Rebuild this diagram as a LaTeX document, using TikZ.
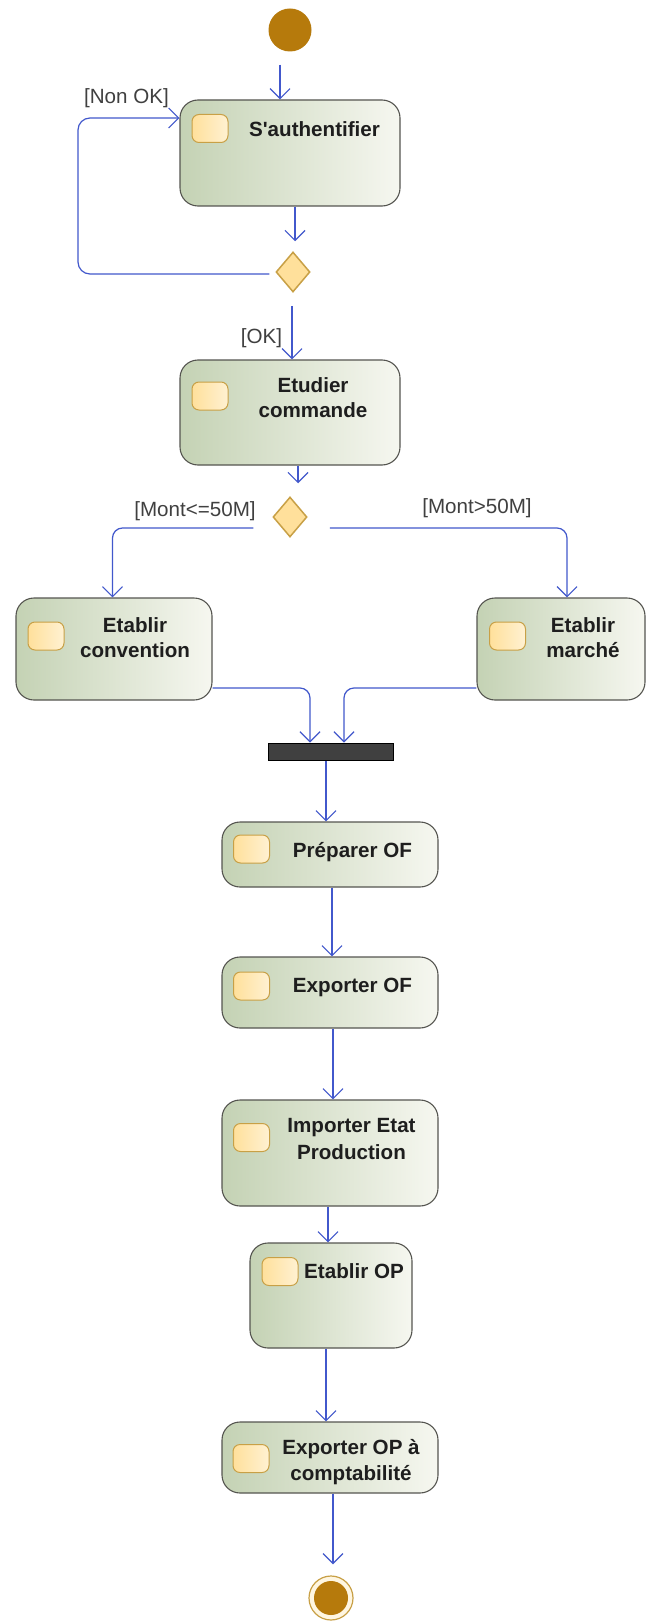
\documentclass[tikz,border=0pt]{standalone}
\usepackage{fontspec}
\setmainfont{Liberation Sans}
\usetikzlibrary{arrows.meta,shapes.geometric,calc}

\definecolor{flowblue}{RGB}{66,88,204}
\definecolor{boxleft}{RGB}{196,210,180}
\definecolor{boxright}{RGB}{246,247,240}
\definecolor{boxline}{RGB}{85,85,80}
\definecolor{pinfill}{RGB}{255,224,155}
\definecolor{pinline}{RGB}{200,160,70}
\definecolor{nodegold}{RGB}{182,122,12}
\definecolor{textdark}{RGB}{30,30,30}
\definecolor{bargray}{RGB}{64,64,64}

\begin{document}
\begin{tikzpicture}[x=1pt,y=-1pt,
  action/.style={draw=boxline, line width=1.1pt, rounded corners=18pt,
    left color=boxleft, right color=boxright, inner sep=0pt},
  pin/.style={draw=pinline, line width=1pt, rounded corners=7pt,
    left color=pinfill, right color=pinfill!45!white,
    minimum width=36pt, minimum height=28pt, inner sep=0pt},
  actext/.style={font=\fontsize{20.6}{25}\selectfont\bfseries, text=textdark,
    anchor=base, inner sep=0pt},
  guard/.style={font=\fontsize{20.6}{25}\selectfont, text=textdark!85,
    inner sep=0pt},
  flow/.style={draw=flowblue, line width=1.2pt,
    -{Straight Barb[length=10pt,width=20pt,line width=1.2pt]}},
  decision/.style={diamond, draw=pinline, line width=1.5pt, fill=pinfill,
    minimum width=34pt, minimum height=40pt, inner sep=0pt},
  initial/.style={circle, fill=nodegold, minimum size=43pt, inner sep=0pt},
  final/.style={circle, draw=pinline, line width=1.2pt, fill=pinfill!30!white,
    minimum size=44pt, inner sep=0pt},
  finaldot/.style={circle, fill=nodegold, minimum size=34pt, inner sep=0pt},
  forkbar/.style={draw=black, line width=1pt, fill=bargray,
    minimum width=125pt, minimum height=17pt, inner sep=0pt}
]
\fill[white] (0,0) rectangle (653,1621);
\useasboundingbox (0,0) rectangle (653,1621);

% start and end
\node[initial] (start) at (290,30) {};
\node[final] (end) at (331,1598) {};
\node[finaldot] (enddot) at (331,1598) {};

% actions
\node[action, minimum width=220pt, minimum height=106pt] (auth) at (290,153) {};
\node[action, minimum width=220pt, minimum height=105pt] (etud) at (290,412.5) {};
\node[action, minimum width=196pt, minimum height=102pt] (conv) at (114,649) {};
\node[action, minimum width=168pt, minimum height=102pt] (march) at (561,649) {};
\node[action, minimum width=216pt, minimum height=65pt] (prep) at (330,854.5) {};
\node[action, minimum width=216pt, minimum height=71pt] (expof) at (330,992.5) {};
\node[action, minimum width=216pt, minimum height=106pt] (imp) at (330,1153) {};
\node[action, minimum width=162pt, minimum height=105pt] (etop) at (331,1295.5) {};
\node[action, minimum width=216pt, minimum height=71pt] (expop) at (330,1457.5) {};

% action pins
\node[pin] (auth-pin) at (210,128.5) {};
\node[pin] (etud-pin) at (210,396) {};
\node[pin] (conv-pin) at (46,636) {};
\node[pin] (march-pin) at (507.5,636) {};
\node[pin] (prep-pin) at (251.5,849) {};
\node[pin] (expof-pin) at (251.5,986) {};
\node[pin] (imp-pin) at (251.5,1137.5) {};
\node[pin] (etop-pin) at (280,1271.5) {};
\node[pin] (expop-pin) at (251,1458.5) {};

% action names
\node[actext] (auth-t) at (314.5,137) {S\textquotesingle authentifier};
\node[actext] (etud-t1) at (313,392) {Etudier};
\node[actext] (etud-t2) at (313,417) {commande};
\node[actext] (conv-t1) at (135,632) {Etablir};
\node[actext] (conv-t2) at (135,657) {convention};
\node[actext] (march-t1) at (583,632) {Etablir};
\node[actext] (march-t2) at (583,657) {marché};
\node[actext] (prep-t) at (352.5,857) {Préparer OF};
\node[actext] (expof-t) at (352.5,992) {Exporter OF};
\node[actext] (imp-t1) at (351.5,1132) {Importer Etat};
\node[actext] (imp-t2) at (351.5,1159) {Production};
\node[actext] (etop-t) at (354,1278) {Etablir OP};
\node[actext] (expop-t1) at (351,1454) {Exporter OP à};
\node[actext] (expop-t2) at (351,1480) {comptabilité};

% decisions and fork
\node[decision] (d1) at (293,272) {};
\node[decision] (d2) at (290,517) {};
\node[forkbar] (bar) at (330.5,751.5) {};

% guards
\node[guard] (nonok) at (126.5,98) {[Non OK]};
\node[guard] (ok) at (261.5,338) {[OK]};
\node[guard] (le50) at (195,511) {[Mont<=50M]};
\node[guard] (gt50) at (477,508) {[Mont>50M]};

% flows
\coordinate (loopc) at (78,118);
\draw[flow] ($(start.south)+(-10,13)$) -- ($(auth.north)+(-10,0)$);
\draw[flow] ($(auth.south)+(5,0)$) -- ($(d1.north)+(2,-10)$);
\draw[flow, rounded corners=12pt] ($(d1.west)+(-6,2)$) -| (loopc) -- (loopc -| auth.west);
\draw[flow] ($(d1.south)+(-1,13)$) -- ($(etud.north)+(2,0)$);
\draw[flow] ($(etud.south)+(8,0)$) -- ($(d2.north)+(8,-13)$);
\draw[flow, rounded corners=10pt] ($(d2.west)+(-19,11)$) -| ($(conv.north)+(-1.5,0)$);
\draw[flow, rounded corners=10pt] ($(d2.east)+(22,11)$) -| ($(march.north)+(6,0)$);
\draw[flow, rounded corners=10pt] ($(conv.east)+(0,39)$) -| ($(bar.north)+(-20.5,0)$);
\draw[flow, rounded corners=10pt] ($(march.west)+(0,39)$) -| ($(bar.north)+(13.5,0)$);
\draw[flow] ($(bar.south)+(-4.5,0)$) -- ($(prep.north)+(-4,0)$);
\draw[flow] ($(prep.south)+(2,0)$) -- ($(expof.north)+(2,0)$);
\draw[flow] ($(expof.south)+(3,0)$) -- ($(imp.north)+(3,0)$);
\draw[flow] ($(imp.south)+(-2,0)$) -- ($(etop.north)+(-3,0)$);
\draw[flow] ($(etop.south)+(-5,0)$) -- ($(expop.north)+(-4,0)$);
\draw[flow] ($(expop.south)+(3,0)$) -- ($(end.north)+(2,-11)$);
\end{tikzpicture}
\end{document}
